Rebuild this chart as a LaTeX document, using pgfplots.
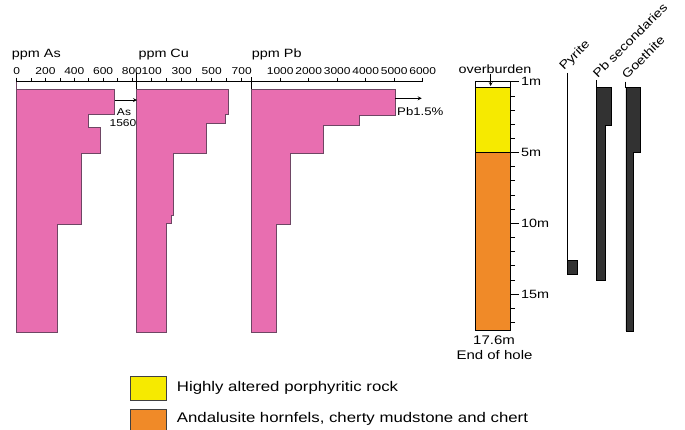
\documentclass[border=0pt]{standalone}
\usepackage{fontspec}
\setmainfont{Liberation Sans}[FakeStretch=1.2]
\usepackage{pgfplots}
\pgfplotsset{compat=1.18}
\definecolor{pinkbar}{RGB}{232,110,176}
\definecolor{pinkedge}{RGB}{110,70,100}
\definecolor{rockyellow}{RGB}{246,234,0}
\definecolor{rockorange}{RGB}{240,138,40}
\definecolor{mineral}{RGB}{50,50,50}
\pgfplotsset{
  geo/.style={
    scale only axis, anchor=north west,
    height=250.2pt, ymin=-17.68, ymax=0,
    axis x line*=top, axis y line=none,
    x axis line style={-, line width=0.8pt},
    xtick align=outside,
    major tick length=4pt, minor tick length=3.5pt,
    every tick/.style={black, line width=0.6pt},
    every minor tick/.style={black, line width=0.6pt},
    /pgf/number format/assume math mode=true,
    /pgf/number format/1000 sep={},
    scaled x ticks=false,
    tick label style={font=\fontsize{10}{12}\selectfont},
    clip=false,
  },
  pinkbar/.style={fill=pinkbar, draw=pinkedge, line width=0.7pt},
}
\begin{document}
\begin{tikzpicture}
\useasboundingbox (0pt,0pt) rectangle (685pt,-429pt);
\fill[white] (0pt,0pt) rectangle (685pt,-429pt);

% ---------------- As ----------------
\begin{axis}[geo, at={(16.7pt,-81.7pt)}, width=120pt, xmin=0, xmax=833.3,
  xtick={0,200,400,600,800}, minor xtick={100,300,500,700}]
\addplot[pinkbar] coordinates {(0,-0.55) (680,-0.55) (680,-2.3) (500,-2.3) (500,-3.24)
  (580,-3.24) (580,-5.07) (450,-5.07) (450,-10.09) (280,-10.09) (280,-17.68) (0,-17.68)} -- cycle;
\addplot[pinkedge, line width=0.7pt] coordinates {(0,0) (0,-0.55)};
\end{axis}

% ---------------- Cu ----------------
\begin{axis}[geo, at={(136.7pt,-81.7pt)}, width=115pt, xmin=0, xmax=766.7,
  xtick={100,300,500,700}, minor xtick={0,200,400,600}]
\addplot[pinkbar] coordinates {(0,-0.55) (611,-0.55) (611,-2.3) (589,-2.3) (589,-2.91)
  (467,-2.91) (467,-5.03) (244,-5.03) (244,-9.43) (229,-9.43) (229,-10.02) (200,-10.02)
  (200,-17.68) (0,-17.68)} -- cycle;
\addplot[black, line width=0.7pt] coordinates {(0,0.6) (0,-0.55)};
\end{axis}

% ---------------- Pb ----------------
\begin{axis}[geo, at={(251.7pt,-81.7pt)}, width=171pt, xmin=0, xmax=6000,
  xtick={1000,2000,3000,4000,5000,6000}, minor xtick={0}]
\addplot[pinkbar] coordinates {(0,-0.55) (5030,-0.55) (5030,-2.37) (3775,-2.37) (3775,-3.07)
  (2512,-3.07) (2512,-5.07) (1344,-5.07) (1344,-10.09) (877,-10.09) (877,-17.68) (0,-17.68)} -- cycle;
\addplot[black, line width=0.7pt] coordinates {(0,0.3) (0,-0.55)};
\end{axis}

% ---------------- lithology column ----------------
\begin{axis}[scale only axis, anchor=north west, at={(475pt,-81.7pt)},
  width=35pt, height=249.04pt, xmin=0, xmax=1, ymin=-17.6, ymax=0,
  axis y line*=right, axis x line=none,
  y axis line style={-, line width=0.7pt},
  ytick align=outside,
  ytick={0,-5,-10,-15}, yticklabels={1m,5m,10m,15m},
  minor ytick={-1,-2,-3,-4,-6,-7,-8,-9,-11,-12,-13,-14,-16,-17},
  major tick length=9pt, minor tick length=5pt,
  every tick/.style={black, line width=0.6pt},
  every minor tick/.style={black, line width=0.6pt},
  yticklabel style={font=\fontsize{12}{14}\selectfont, inner sep=2pt},
  clip=false]
\addplot[draw=black, fill=white, line width=0.7pt] coordinates {(0,0) (1,0) (1,-0.41) (0,-0.41)} -- cycle;
\addplot[draw=black, fill=rockyellow, line width=0.7pt] coordinates {(0,-0.41) (1,-0.41) (1,-5) (0,-5)} -- cycle;
\addplot[draw=black, fill=rockorange, line width=0.7pt] coordinates {(0,-5) (1,-5) (1,-17.6) (0,-17.6)} -- cycle;
\end{axis}

% ---------------- minerals ----------------
\begin{axis}[scale only axis, anchor=north west, at={(561.5pt,-81.7pt)},
  width=87.6pt, height=250.2pt, xmin=-0.2, xmax=2.8, ymin=-17.68, ymax=0,
  hide axis, clip=false]
% Pyrite
\addplot[black, line width=0.6pt] coordinates {(0,0.62) (0,-12.6)};
\addplot[fill=mineral, draw=black, line width=0.5pt] coordinates {(0,-12.6) (0.34,-12.6) (0.34,-13.6) (0,-13.6)} -- cycle;
% Pb secondaries
\addplot[black, line width=0.6pt] coordinates {(1,0.1) (1,-0.41)};
\addplot[fill=mineral, draw=black, line width=0.5pt] coordinates {(1,-0.41) (1.49,-0.41) (1.49,-3.07)
  (1.31,-3.07) (1.31,-14.03) (1,-14.03)} -- cycle;
% Goethite
\addplot[black, line width=0.6pt] coordinates {(2,0) (2,-0.41)};
\addplot[fill=mineral, draw=black, line width=0.5pt] coordinates {(2,-0.41) (2.49,-0.41) (2.49,-4.96)
  (2.27,-4.96) (2.27,-17.6) (2,-17.6)} -- cycle;
\end{axis}

% ---------------- annotations ----------------
\begin{scope}[every node/.style={inner sep=0pt}]
\node[anchor=base west, font=\fontsize{12}{14}\selectfont] at (11.7pt,-57.5pt) {ppm As};
\node[anchor=base west, font=\fontsize{12}{14}\selectfont] at (138.3pt,-57.5pt) {ppm Cu};
\node[anchor=base west, font=\fontsize{12}{14}\selectfont] at (251.7pt,-57.5pt) {ppm Pb};

\draw[-stealth, line width=0.8pt] (114.6pt,-100pt) -- (137pt,-100pt);
\node[font=\fontsize{10}{12}\selectfont] at (124pt,-111.7pt) {As};
\node[font=\fontsize{10}{12}\selectfont] at (123pt,-123pt) {1560};

\draw[-stealth, line width=0.8pt] (395pt,-98.3pt) -- (421.7pt,-98.3pt);
\node[anchor=west, font=\fontsize{11}{13}\selectfont] at (397pt,-111.5pt) {Pb1.5\%};

\node[font=\fontsize{12}{14}\selectfont] at (495pt,-69pt) {overburden};
\draw[-stealth, line width=0.7pt] (490.7pt,-74pt) -- (490.7pt,-86pt);

\node[font=\fontsize{12.5}{14}\selectfont] at (494pt,-340.5pt) {17.6m};
\node[font=\fontsize{12.5}{14}\selectfont] at (494.5pt,-355pt) {End of hole};

\node[rotate=45, anchor=south west, font=\fontsize{12}{14}\selectfont] at (566pt,-73pt) {Pyrite};
\node[rotate=45, anchor=south west, font=\fontsize{12}{14}\selectfont] at (598pt,-79pt) {Pb secondaries};
\node[rotate=45, anchor=south west, font=\fontsize{12}{14}\selectfont] at (627pt,-80pt) {Goethite};

\draw[fill=rockyellow, draw=black!75, line width=0.6pt] (130pt,-376pt) rectangle (166.7pt,-400pt);
\node[anchor=west, font=\fontsize{14}{16}\selectfont] at (176.7pt,-387.7pt) {Highly altered porphyritic rock};
\draw[fill=rockorange, draw=black!75, line width=0.6pt] (130pt,-409pt) rectangle (166.7pt,-433pt);
\node[anchor=west, font=\fontsize{14}{16}\selectfont] at (176.7pt,-419.3pt) {Andalusite hornfels, cherty mudstone and chert};
\end{scope}
\end{tikzpicture}
\end{document}
